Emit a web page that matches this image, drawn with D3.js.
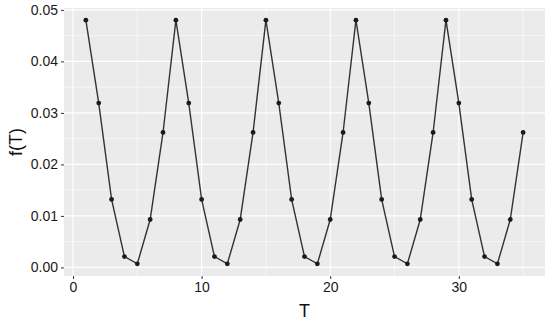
<!DOCTYPE html>
<html>
<head>
<meta charset="utf-8">
<script src="https://cdn.jsdelivr.net/npm/d3@7"></script>
<style>
  body { margin: 0; background: #fff; }
  text { font-family: "Liberation Sans", Arial, sans-serif; }
</style>
</head>
<body>
<div class="chart"></div>
<script>
// data
var tValues = [1, 2, 3, 4, 5, 6, 7, 8, 9, 10, 11, 12, 13, 14, 15, 16, 17, 18,
  19, 20, 21, 22, 23, 24, 25, 26, 27, 28, 29, 30, 31, 32, 33, 34, 35];
var fValues = [
  0.0480, 0.0319, 0.0132, 0.0021, 0.0007, 0.0093, 0.0262,
  0.0480, 0.0319, 0.0132, 0.0021, 0.0007, 0.0093, 0.0262,
  0.0480, 0.0319, 0.0132, 0.0021, 0.0007, 0.0093, 0.0262,
  0.0480, 0.0319, 0.0132, 0.0021, 0.0007, 0.0093, 0.0262,
  0.0480, 0.0319, 0.0132, 0.0021, 0.0007, 0.0093, 0.0262
];
var xTicks = [0, 10, 20, 30];
var xMinor = [5, 15, 25, 35];
var yTicks = [0, 0.01, 0.02, 0.03, 0.04, 0.05];
var yMinor = [0.005, 0.015, 0.025, 0.035, 0.045];

var svgWidth = 550;
var svgHeight = 322;
var margin = { top: 8, right: 5, bottom: 46, left: 64 };
var width = svgWidth - margin.left - margin.right;
var height = svgHeight - margin.top - margin.bottom;

var svg = d3.select(".chart")
  .append("svg")
  .attr("width", svgWidth)
  .attr("height", svgHeight);

var chartGroup = svg.append("g")
  .attr("transform", `translate(${margin.left}, ${margin.top})`);

var data = tValues.map((t, i) => ({ t: t, f: fValues[i] }));

// ggplot-like 5% expansion
var xr = d3.extent(tValues), yr = d3.extent(fValues);
var xpad = (xr[1] - xr[0]) * 0.05, ypad = (yr[1] - yr[0]) * 0.05;

var x = d3.scaleLinear().domain([xr[0] - xpad, xr[1] + xpad]).range([0, width]);
var y = d3.scaleLinear().domain([yr[0] - ypad, yr[1] + ypad]).range([height, 0]);

// panel
chartGroup.append("rect")
  .attr("width", width)
  .attr("height", height)
  .attr("fill", "#EBEBEB");

// minor grid
chartGroup.selectAll(".xminor").data(xMinor).enter().append("line")
  .attr("x1", d => x(d)).attr("x2", d => x(d))
  .attr("y1", 0).attr("y2", height)
  .attr("stroke", "#fff").attr("stroke-width", 0.55);
chartGroup.selectAll(".yminor").data(yMinor).enter().append("line")
  .attr("y1", d => y(d)).attr("y2", d => y(d))
  .attr("x1", 0).attr("x2", width)
  .attr("stroke", "#fff").attr("stroke-width", 0.55);

// major grid
chartGroup.selectAll(".xmajor").data(xTicks).enter().append("line")
  .attr("x1", d => x(d)).attr("x2", d => x(d))
  .attr("y1", 0).attr("y2", height)
  .attr("stroke", "#fff").attr("stroke-width", 1.1);
chartGroup.selectAll(".ymajor").data(yTicks).enter().append("line")
  .attr("y1", d => y(d)).attr("y2", d => y(d))
  .attr("x1", 0).attr("x2", width)
  .attr("stroke", "#fff").attr("stroke-width", 1.1);

// axes
var bottomAxis = d3.axisBottom(x).tickValues(xTicks).tickSize(3).tickPadding(3)
  .tickFormat(d3.format("d"));
var leftAxis = d3.axisLeft(y).tickValues(yTicks).tickSize(3).tickPadding(3)
  .tickFormat(d3.format(".2f"));

var xAxis = chartGroup.append("g")
  .attr("transform", `translate(0, ${height})`)
  .call(bottomAxis);
var yAxis = chartGroup.append("g")
  .call(leftAxis);

[xAxis, yAxis].forEach(function(g) {
  g.select(".domain").remove();
  g.selectAll(".tick line").attr("stroke", "#333").attr("stroke-width", 1);
  g.selectAll(".tick text")
    .attr("fill", "#1a1a1a")
    .style("font-size", "14px")
    .style("font-family", "Liberation Sans, Arial, sans-serif");
});

// line and points
var line = d3.line().x(d => x(d.t)).y(d => y(d.f));
chartGroup.append("path")
  .datum(data)
  .attr("d", line)
  .attr("fill", "none")
  .attr("stroke", "#333")
  .attr("stroke-width", 1.4);

chartGroup.selectAll("circle")
  .data(data)
  .enter()
  .append("circle")
  .attr("cx", d => x(d.t))
  .attr("cy", d => y(d.f))
  .attr("r", 2.4)
  .attr("fill", "#1a1a1a");

// axis titles
svg.append("text")
  .attr("x", margin.left + width / 2)
  .attr("y", 317)
  .attr("text-anchor", "middle")
  .style("font-size", "18px")
  .attr("fill", "#111")
  .text("T");

svg.append("text")
  .attr("transform", `translate(22, ${margin.top + height / 2}) rotate(-90)`)
  .attr("text-anchor", "middle")
  .style("font-size", "18px")
  .attr("fill", "#111")
  .text("f(T)");
</script>
</body>
</html>
